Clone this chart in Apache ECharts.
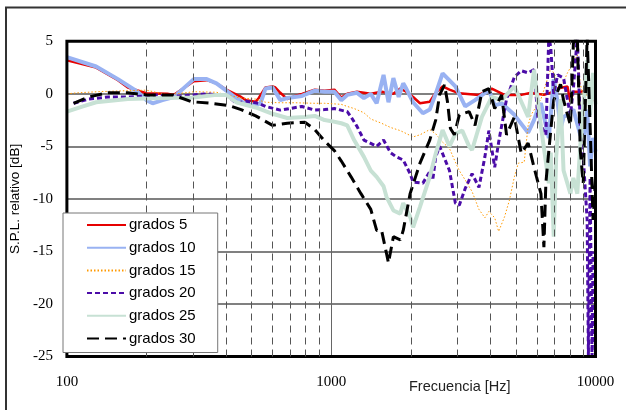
<!DOCTYPE html>
<html>
<head>
<meta charset="utf-8">
<script src="https://cdn.jsdelivr.net/npm/echarts@6/dist/echarts.min.js"></script>
<style>
html,body{margin:0;padding:0;background:#fff;}
#chart{width:626px;height:410px;}
</style>
</head>
<body>
<div id="chart"></div>
<script>
// ---- Data (frequency Hz, relative SPL dB) ----
var seriesNames = ['grados 5', 'grados 10', 'grados 15', 'grados 20', 'grados 25', 'grados 30'];
var xTickLabels = ['100', '1000', '10000'];
var yTickLabels = ['-25', '-20', '-15', '-10', '-5', '0', '5'];
var minorFreqs = [200, 300, 400, 500, 600, 700, 800, 900, 2000, 3000, 4000, 5000, 6000, 7000, 8000, 9000];

var grados5 = [[100,3.2],[129,2.5],[156,1.3],[170,0.6],[200,0.05],[240,0],[254,-0.1],[302,1.2],[338,1.3],[368,1.0],[401,0.4],[456,-0.3],[476,-0.6],[518,-0.75],[532,-0.4],[564,0.6],[600,0.7],[615,0.6],[642,0.1],[682,-0.5],[730,-0.2],[775,0],[867,0.4],[944,0.3],[1028,0.4],[1092,-0.35],[1150,0],[1252,0.2],[1412,0],[1551,0.2],[1719,0],[1825,0.5],[1922,0.2],[2041,-0.3],[2167,-0.9],[2360,-0.75],[2485,0.1],[2639,0.7],[2802,0.4],[3052,0.05],[3623,-0.1],[4051,0.5],[4528,-0.1],[5236,-0.1],[5706,0.1],[6379,-0.1],[6950,0.2],[7190,0.5],[7834,0.7],[7950,-0.2],[8038,-0.75],[8248,0.2],[8757,0.2],[9299,0.3],[9540,0],[9788,-0.6],[10000,-0.5]];

var grados10 = [[100,3.5],[129,2.6],[156,1.4],[185,0.2],[200,-0.6],[211,-0.9],[230,-0.6],[254,-0.3],[302,1.4],[338,1.4],[368,1.0],[401,0.3],[437,-0.4],[476,-1.0],[518,-1.1],[540,-0.9],[564,0.5],[600,0.6],[642,-0.6],[682,-0.4],[775,-0.2],[867,0.3],[944,0.2],[1028,0.2],[1092,-0.6],[1150,-0.1],[1252,0.1],[1330,-0.4],[1412,0],[1486,-0.9],[1578,1.8],[1647,-0.8],[1719,1.5],[1800,-0.3],[1873,1.0],[1922,0.5],[2041,-0.8],[2223,-1.85],[2360,-1.5],[2485,0],[2639,1.95],[2950,0.7],[3214,-1.2],[3501,-0.6],[3949,0.35],[4156,-1.1],[4413,-0.9],[4932,-2.0],[5561,-3.7],[5854,-2.5],[6058,-1.4],[6217,-0.9],[6659,-4.2],[6950,1.4],[7190,-0.8],[7378,-3.3],[7571,-2.2],[7834,-2.0],[8248,-1.5],[8757,-3.9],[8986,-4.4],[9299,-1.5],[9540,-6.9],[9788,-4.2],[10000,-5.5]];

var grados15 = [[100,0],[110,0.1],[131,0.2],[170,0.3],[200,0.35],[240,-0.1],[302,0.2],[368,0.15],[401,-0.1],[456,-0.4],[518,-0.5],[532,-0.6],[564,-0.8],[642,-0.85],[730,-0.85],[867,-0.9],[944,-0.9],[1092,-1.0],[1150,-1.2],[1221,-1.4],[1330,-1.8],[1412,-2.4],[1551,-2.8],[1676,-3.2],[1825,-3.5],[2041,-4.1],[2167,-3.9],[2360,-3.4],[2485,-3.8],[2639,-4.6],[2802,-5.2],[2950,-6.5],[3052,-7.3],[3214,-8.2],[3412,-9.3],[3623,-11],[3815,-11.8],[3949,-11.2],[4156,-11.8],[4301,-13.1],[4528,-11.7],[4727,-10.1],[4932,-7.9],[5104,-6.6],[5373,-6.5],[5561,-3],[5706,-2],[6217,-0.5],[6773,2.4],[6950,2.0],[7378,0.5],[7834,2.0],[8248,3.0],[8534,3.7],[8757,1.0],[9000,-0.5],[9540,0.3],[10000,-0.5]];

var grados20 = [[106,-0.9],[121,-0.5],[143,-0.3],[170,-0.3],[200,-0.2],[220,-0.1],[240,-0.2],[272,-0.2],[302,-0.1],[338,0],[368,-0.1],[401,-0.1],[437,-0.9],[476,-0.7],[532,-0.9],[564,-1.2],[642,-1.55],[775,-1.2],[867,-1.55],[944,-1.5],[1028,-1.4],[1150,-1.7],[1189,-2.2],[1252,-3.1],[1330,-4.4],[1486,-5.0],[1578,-4.4],[1676,-5.6],[1764,-6],[1873,-6.3],[1989,-7.6],[2041,-8.4],[2223,-8.5],[2360,-7.4],[2422,-8.2],[2485,-6],[2572,-5],[2802,-7.3],[2950,-10.4],[3052,-10.6],[3214,-9],[3412,-7.6],[3623,-8.9],[3815,-6],[3949,-3.5],[4156,-7.0],[4301,-4.6],[4607,-0.5],[4932,1.6],[5236,2.2],[5561,2.0],[5854,2.3],[6058,-2.3],[6217,-3.0],[6489,-3.9],[6659,5.5],[6773,4.4],[6950,0],[7190,1.8],[7571,1.5],[7834,-0.6],[8038,-2],[8248,0.5],[8534,5.5],[8757,-3],[8986,-6],[9299,-12],[9400,-25],[9540,-8],[9700,-25],[9788,-15],[10000,-25]];

var grados25 = [[100,-1.7],[115,-1.2],[129,-0.8],[170,-0.5],[230,-0.4],[302,-0.35],[368,-0.1],[401,-0.1],[437,-0.8],[518,-1.3],[600,-1.9],[682,-2.3],[795,-2.2],[867,-2.1],[944,-2.5],[1002,-2.6],[1092,-2.8],[1150,-3.0],[1221,-4.4],[1330,-6],[1412,-7.3],[1486,-7.9],[1578,-8.8],[1619,-9.8],[1719,-11.1],[1825,-11.4],[1873,-10.4],[1989,-11.7],[2041,-12.7],[2167,-10.75],[2360,-7.9],[2485,-5.7],[2639,-3.45],[2802,-5],[2950,-3.8],[3132,-3.5],[3326,-5],[3412,-5.35],[3718,-2.2],[4051,-0.3],[4413,-0.6],[4932,0.7],[5561,-2.2],[5854,2.3],[6217,-3.1],[6659,-8.5],[6773,-5.6],[6950,-13.6],[7100,-6],[7378,-0.5],[7571,-7.3],[8038,-9.5],[8248,-8],[8534,-9.5],[8757,-5],[9299,3.2],[9540,-2],[9788,2],[10000,-1]];

var grados30 = [[106,-0.9],[121,-0.3],[143,0.1],[170,0.1],[200,-0.1],[252,-0.1],[296,-0.75],[350,-0.9],[408,-1.1],[456,-1.5],[518,-2.1],[600,-3],[682,-2.8],[795,-2.7],[867,-3.4],[944,-4.5],[1028,-5.4],[1092,-6.4],[1189,-7.9],[1296,-9.5],[1412,-11],[1486,-13],[1551,-13],[1619,-15.2],[1647,-16.1],[1719,-13.6],[1825,-13.9],[1873,-13],[1989,-9.5],[2167,-6.6],[2360,-4.4],[2485,-2.5],[2572,-0.1],[2684,0.85],[2754,-0.75],[2826,-3.3],[2924,-3.9],[3052,-2],[3326,-1.7],[3501,-3],[3718,0.2],[3949,0.5],[4156,-1.4],[4413,-0.1],[4607,-3.9],[4932,-2.2],[5236,-5.65],[5561,-4.7],[5854,-7],[6217,-9.5],[6379,-14.6],[6489,-8.5],[6659,-5.4],[6950,-0.6],[7378,0.9],[7571,-0.6],[8038,-3],[8248,4.8],[8534,5.5],[8757,-5.4],[8986,-8.5],[9299,5.5],[9540,-3],[9788,-12],[10000,-8]];

var seriesData = [grados5, grados10, grados15, grados20, grados25, grados30];
var seriesColors = ['#e60000', '#99b2f2', '#ff9900', '#4b0ca8', '#c7e1d4', '#000000'];
var seriesWidths = [2.5, 4, 1, 3, 4, 3];
var seriesDash = ['solid', 'solid', [1.5, 2], [5, 3], 'solid', [12, 6]];

var chart = echarts.init(document.getElementById('chart'), null, {renderer: 'canvas'});

var series = [{
  name: 'minor',
  type: 'line',
  data: [],
  z: 1,
  silent: true,
  markLine: {
    silent: true,
    symbol: ['none', 'none'],
    label: {show: false},
    lineStyle: {color: '#555', width: 1, type: [7, 5]},
    data: minorFreqs.map(function (f) { return {xAxis: f}; }),
    animation: false
  }
}];
for (var i = 0; i < seriesNames.length; i++) {
  series.push({
    name: seriesNames[i],
    type: 'line',
    data: seriesData[i],
    showSymbol: false,
    symbol: 'none',
    z: 2 + i * 0.01,
    lineStyle: {color: seriesColors[i], width: seriesWidths[i], type: seriesDash[i]},
    itemStyle: {color: seriesColors[i]},
    animation: false
  });
}

chart.setOption({
  animation: false,
  backgroundColor: '#fff',
  grid: {left: 58, top: 41.3, right: 30.5, bottom: 53.5, show: true, borderColor: '#000', borderWidth: 3, backgroundColor: 'transparent', z: 3},
  xAxis: {
    type: 'log', logBase: 10, min: 100, max: 10000,
    axisLine: {show: false},
    axisTick: {show: false},
    splitLine: {show: true, showMinLine: false, showMaxLine: false, lineStyle: {color: '#666', width: 1}},
    axisLabel: {
      margin: 18, color: '#000', fontFamily: 'Liberation Serif', fontSize: 15,
      formatter: function (v) {
        var k = Math.round(Math.log10(v)) - 2;
        return xTickLabels[k] !== undefined ? xTickLabels[k] : '';
      }
    }
  },
  yAxis: {
    type: 'value', min: -25, max: 5, interval: 5,
    axisLine: {show: false},
    axisTick: {show: false},
    splitLine: {show: true, showMinLine: false, showMaxLine: false, lineStyle: {color: '#808080', width: 2}},
    axisLabel: {
      margin: 14, color: '#000', fontFamily: 'Liberation Serif', fontSize: 15,
      formatter: function (v) { return yTickLabels[Math.round((v + 25) / 5)]; }
    },
    name: 'S.P.L. relativo [dB]',
    nameLocation: 'middle',
    nameGap: 28,
    nameTextStyle: {color: '#000', fontFamily: 'Liberation Sans', fontSize: 13.5}
  },
  legend: {
    data: seriesNames,
    orient: 'vertical',
    left: 63, top: 213,
    padding: [4, 22, 6, 23],
    itemWidth: 39, itemHeight: 14, itemGap: 6.7,
    backgroundColor: '#fff',
    borderColor: '#777', borderWidth: 1,
    borderRadius: 0,
    selectedMode: false,
    itemStyle: {color: 'rgba(0,0,0,0)', borderWidth: 0, opacity: 0},
    textStyle: {color: '#000', fontFamily: 'Liberation Sans', fontSize: 15, lineHeight: 16, padding: [0, 0, 0, -2]},
    z: 10
  },
  graphic: [
    {type: 'rect', shape: {x: 6, y: 7.5, width: 640, height: 420}, style: {fill: 'none', stroke: '#333', lineWidth: 2}, silent: true, z: 0},
    {type: 'text', left: 409, top: 379.5, style: {text: 'Frecuencia [Hz]', fill: '#222', font: '14.5px "Liberation Sans"'}, silent: true}
  ],
  series: series
});
</script>
</body>
</html>
